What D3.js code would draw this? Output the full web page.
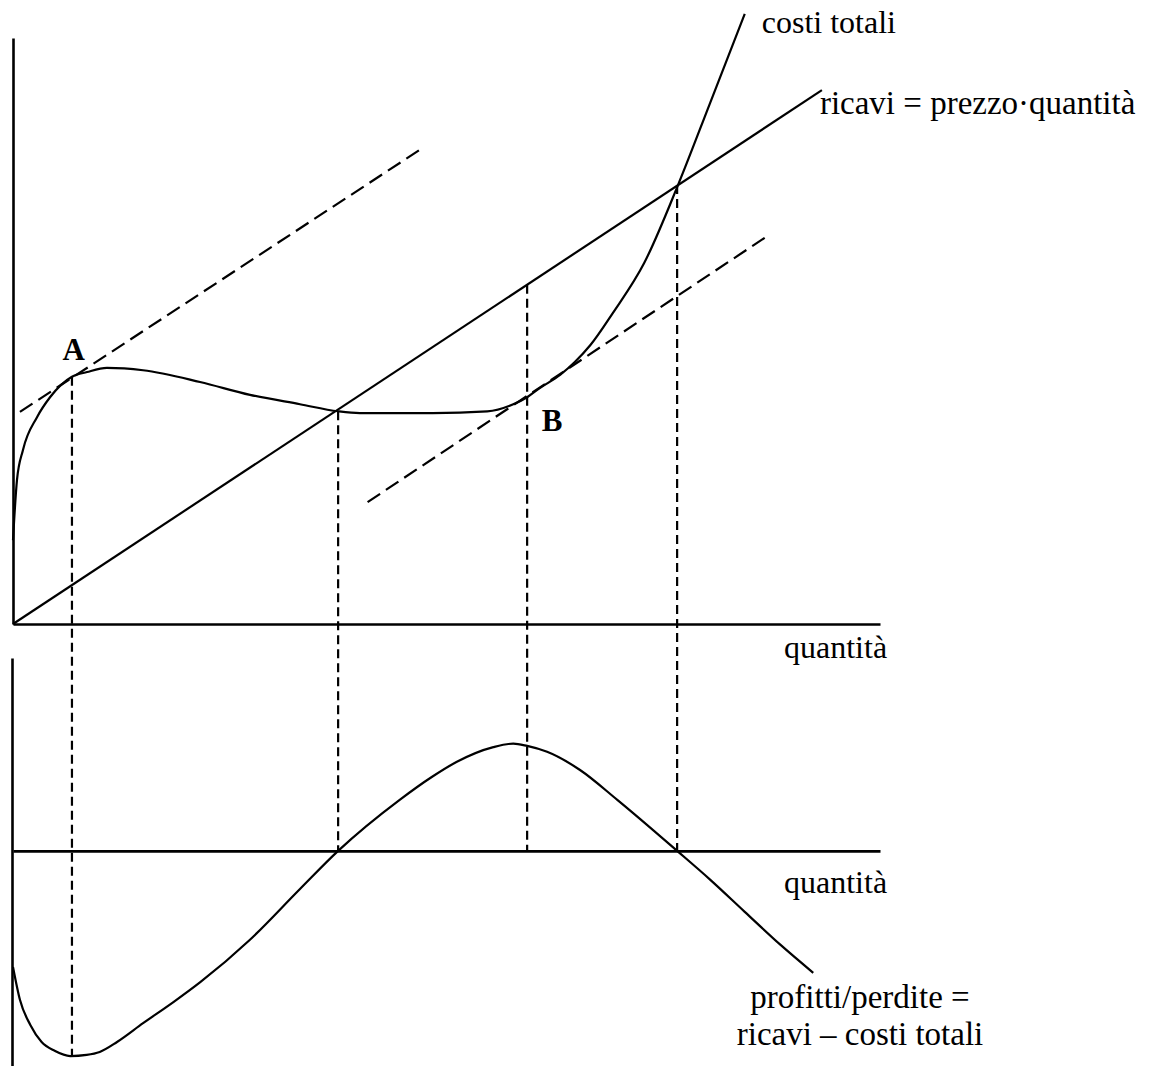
<!DOCTYPE html>
<html>
<head>
<meta charset="utf-8">
<script src="https://cdn.jsdelivr.net/npm/d3@7"></script>
<style>
  body { margin: 0; background: #fff; }
  svg text { font-family: "Liberation Serif", "Times New Roman", serif; fill: #000; }
</style>
</head>
<body>
<div id="chart"></div>
<script>
// quantity (q) on x, value (v) on y, arbitrary units
const costCurve = [
  [0, 1.43], [0.046, 2.46], [0.115, 2.97], [0.277, 3.53], [0.427, 3.87], [0.68, 4.22],
  [0.854, 4.30], [1.084, 4.37], [1.5, 4.33], [2.157, 4.13], [2.734, 3.91], [3.31, 3.75],
  [3.75, 3.63], [4.0, 3.60], [4.84, 3.60], [5.47, 3.63], [5.77, 3.75], [5.93, 3.87],
  [6.08, 4.03], [6.31, 4.25], [6.48, 4.47], [6.66, 4.76], [6.92, 5.31], [7.28, 6.16],
  [7.67, 7.49], [8.04, 8.89], [8.44, 10.41]
];
const revenueLine = [[0, 0], [9.33, 9.11]];
const tangentA = [[0.08, 3.62], [4.69, 8.09]];
const tangentB = [[4.09, 2.08], [8.67, 6.59]];

const profitCurve = [
  [0, -1.98], [0.08, -2.54], [0.2, -2.97], [0.33, -3.26], [0.48, -3.41], [0.66, -3.50],
  [0.85, -3.48], [1.0, -3.43], [1.2, -3.26], [1.5, -2.94], [1.85, -2.58], [2.16, -2.24],
  [2.73, -1.52], [3.31, -0.65], [3.75, 0], [4.46, 0.87], [4.83, 1.26], [5.12, 1.52],
  [5.54, 1.77], [5.77, 1.83], [5.93, 1.79], [6.16, 1.69], [6.54, 1.38], [6.97, 0.87],
  [7.66, 0], [8.04, -0.49], [8.44, -1.04], [8.85, -1.60], [9.23, -2.08]
];

// guide lines: q, value in top panel, profit in bottom panel
const guides = [
  { q: 0.68, top: 4.22, bottom: -3.50 },
  { q: 3.75, top: 3.63, bottom: 0 },
  { q: 5.93, top: 5.79, bottom: 0 },
  { q: 7.66, top: 7.49, bottom: 0 }
];

const pointLabels = [
  { text: "A", q: 0.57, v: 4.5 },
  { text: "B", q: 6.1, v: 3.30 }
];

const width = 1150, height = 1066;

const x = d3.scaleLinear().domain([0, 10]).range([13, 880]);
const yTop = d3.scaleLinear().domain([0, 10]).range([624, 38]);
const yBot = d3.scaleLinear().domain([-3.67, 3.29]).range([1066, 658]);

const svg = d3.select("#chart").append("svg")
  .attr("width", width)
  .attr("height", height);

// axes without ticks
svg.append("g").attr("transform", `translate(0,${yTop(0)})`)
  .call(d3.axisBottom(x).tickValues([]).tickSizeOuter(0));
svg.append("g").attr("transform", `translate(${x(0)},0)`)
  .call(d3.axisLeft(yTop).tickValues([]).tickSizeOuter(0));
svg.append("g").attr("transform", `translate(0,${yBot(0)})`)
  .call(d3.axisBottom(x).tickValues([]).tickSizeOuter(0));
svg.append("g").attr("transform", `translate(${x(0) - 1},0)`)
  .call(d3.axisLeft(yBot).tickValues([]).tickSizeOuter(0));
svg.selectAll(".domain").attr("stroke", "#000").attr("stroke-width", 2.6);

const lineTop = d3.line().x(d => x(d[0])).y(d => yTop(d[1]));
const curveTop = d3.line().x(d => x(d[0])).y(d => yTop(d[1])).curve(d3.curveMonotoneX);
const curveBot = d3.line().x(d => x(d[0])).y(d => yBot(d[1])).curve(d3.curveMonotoneX);

// dashed guides
svg.append("g").selectAll("line")
  .data(guides)
  .join("line")
  .attr("x1", d => x(d.q)).attr("x2", d => x(d.q))
  .attr("y1", d => yTop(d.top)).attr("y2", d => yBot(d.bottom))
  .attr("stroke", "#000").attr("stroke-width", 2.2)
  .attr("stroke-dasharray", "9,5");

svg.append("g").selectAll("path")
  .data([tangentA, tangentB])
  .join("path")
  .attr("d", lineTop)
  .attr("fill", "none").attr("stroke", "#000").attr("stroke-width", 2.2)
  .attr("stroke-dasharray", "15,7");

svg.append("path").datum(revenueLine)
  .attr("d", lineTop)
  .attr("fill", "none").attr("stroke", "#000").attr("stroke-width", 2.2);

svg.append("path").datum(costCurve)
  .attr("d", curveTop)
  .attr("fill", "none").attr("stroke", "#000").attr("stroke-width", 2.2);

svg.append("path").datum(profitCurve)
  .attr("d", curveBot)
  .attr("fill", "none").attr("stroke", "#000").attr("stroke-width", 2.2);

// labels
svg.selectAll(".pt")
  .data(pointLabels)
  .join("text")
  .attr("class", "pt")
  .attr("x", d => x(d.q)).attr("y", d => yTop(d.v))
  .attr("font-size", 31).attr("font-weight", "bold")
  .text(d => d.text);

const last = costCurve[costCurve.length - 1];
svg.append("text")
  .attr("x", x(last[0]) + 17).attr("y", 33)
  .attr("font-size", 32)
  .text("costi totali");

svg.append("text")
  .attr("x", x(revenueLine[1][0]) - 2).attr("y", 114)
  .attr("font-size", 33)
  .text("ricavi = prezzo·quantità");

svg.append("text")
  .attr("x", 784).attr("y", yTop(0) + 34)
  .attr("font-size", 32)
  .text("quantità");

svg.append("text")
  .attr("x", 784).attr("y", yBot(0) + 42)
  .attr("font-size", 32)
  .text("quantità");

const pl = svg.append("text")
  .attr("text-anchor", "middle")
  .attr("font-size", 33);
pl.append("tspan").attr("x", 860).attr("y", 1008).text("profitti/perdite =");
pl.append("tspan").attr("x", 860).attr("y", 1045).text("ricavi – costi totali");
</script>
</body>
</html>
